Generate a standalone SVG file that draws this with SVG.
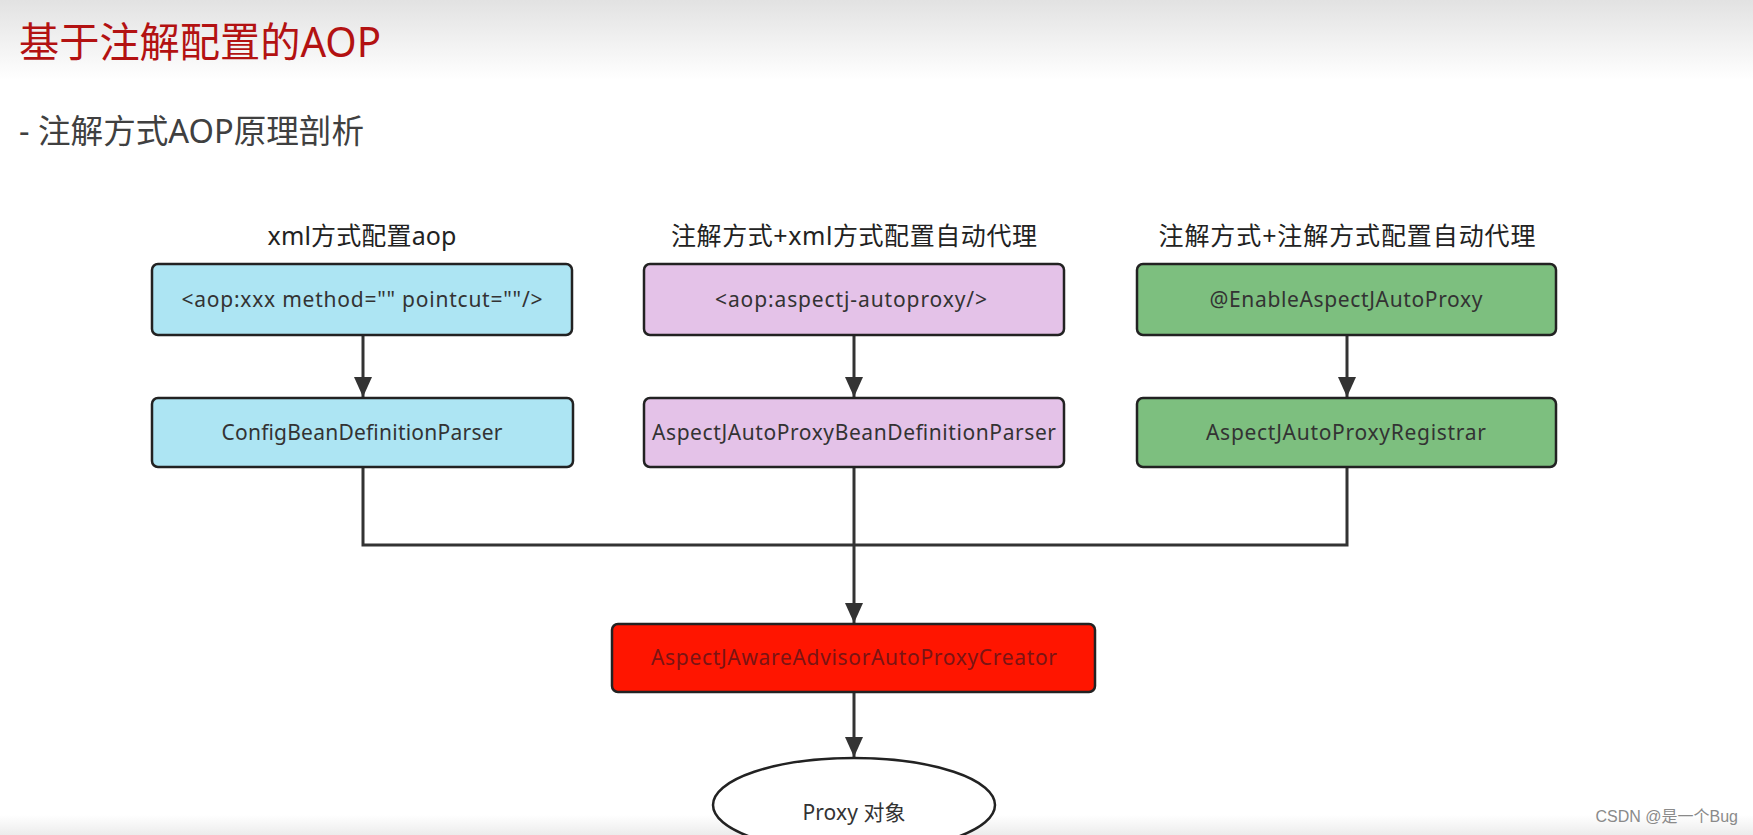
<svg xmlns="http://www.w3.org/2000/svg" width="1753" height="835" viewBox="0 0 1753 835">
<defs>
<linearGradient id="topg" x1="0" y1="0" x2="0" y2="1">
<stop offset="0" stop-color="#e2e2e2"/>
<stop offset="1" stop-color="#ffffff"/>
</linearGradient>
<linearGradient id="botg" x1="0" y1="0" x2="0" y2="1">
<stop offset="0" stop-color="#ffffff"/>
<stop offset="1" stop-color="#ececec"/>
</linearGradient>
<marker id="arr" viewBox="0 0 20 18" refX="20" refY="9" markerWidth="20" markerHeight="18" markerUnits="userSpaceOnUse" orient="auto">
<path d="M0,0 L20,9 L0,18 Z" fill="#333"/>
</marker>
<style>
.head{font-family:"Noto Sans","Noto Sans CJK SC",sans-serif;font-size:25px;fill:#222;text-anchor:middle}
.lbl{font-family:"Noto Sans","Noto Sans CJK SC",sans-serif;font-size:21px;fill:#333;text-anchor:middle}
.box{stroke:#222;stroke-width:2.5}
.conn{stroke:#333;stroke-width:3;fill:none}
</style>
</defs>
<rect x="0" y="0" width="1753" height="835" fill="#fff"/>
<rect x="0" y="0" width="1753" height="80" fill="url(#topg)"/>
<rect x="0" y="815" width="1753" height="20" fill="url(#botg)"/>
<g id="title">
<text x="19" y="57" font-family="'Noto Sans','Noto Sans CJK SC',sans-serif" font-size="41" fill="#b31212" textLength="362" lengthAdjust="spacingAndGlyphs">基于注解配置的AOP</text>
</g>
<g id="subtitle">
<text x="19" y="143" font-family="'Noto Sans','Noto Sans CJK SC',sans-serif" font-size="32.5" fill="#404040" textLength="345" lengthAdjust="spacingAndGlyphs">- 注解方式AOP原理剖析</text>
</g>
<g id="heading1"><text class="head" x="362" y="245" textLength="189">xml方式配置aop</text></g>
<g id="heading2"><text class="head" x="854" y="245" textLength="366">注解方式+xml方式配置自动代理</text></g>
<g id="heading3"><text class="head" x="1347" y="245" textLength="377">注解方式+注解方式配置自动代理</text></g>

<g id="connectors">
<line class="conn" x1="363" y1="335" x2="363" y2="397" marker-end="url(#arr)"/>
<line class="conn" x1="854" y1="335" x2="854" y2="397" marker-end="url(#arr)"/>
<line class="conn" x1="1347" y1="335" x2="1347" y2="397" marker-end="url(#arr)"/>
<polyline class="conn" points="363,467 363,545 1347,545 1347,467"/>
<line class="conn" x1="854" y1="467" x2="854" y2="623" marker-end="url(#arr)"/>
<line class="conn" x1="854" y1="692" x2="854" y2="757" marker-end="url(#arr)"/>
</g>

<g id="n-xml-tag">
<rect class="box" x="152" y="264" width="420" height="71" rx="6" fill="#ade5f3"/>
<text class="lbl" x="362" y="307" textLength="361">&lt;aop:xxx method="" pointcut=""/&gt;</text>
</g>
<g id="n-config-parser">
<rect class="box" x="152" y="398" width="421" height="69" rx="6" fill="#ade5f3"/>
<text class="lbl" x="362" y="440" textLength="281">ConfigBeanDefinitionParser</text>
</g>
<g id="n-autoproxy-tag">
<rect class="box" x="644" y="264" width="420" height="71" rx="6" fill="#e4c2e8"/>
<text class="lbl" x="851" y="307" textLength="272">&lt;aop:aspectj-autoproxy/&gt;</text>
</g>
<g id="n-autoproxy-parser">
<rect class="box" x="644" y="398" width="420" height="69" rx="6" fill="#e4c2e8"/>
<text class="lbl" x="854" y="440" textLength="404">AspectJAutoProxyBeanDefinitionParser</text>
</g>
<g id="n-enable">
<rect class="box" x="1137" y="264" width="419" height="71" rx="6" fill="#7dbf7f"/>
<text class="lbl" x="1346" y="307" textLength="273">@EnableAspectJAutoProxy</text>
</g>
<g id="n-registrar">
<rect class="box" x="1137" y="398" width="419" height="69" rx="6" fill="#7dbf7f"/>
<text class="lbl" x="1346" y="440" textLength="280">AspectJAutoProxyRegistrar</text>
</g>
<g id="n-creator">
<rect class="box" x="612" y="624" width="483" height="68" rx="6" fill="#ff1500"/>
<text class="lbl" x="854" y="665" textLength="406" style="fill:#7a1414">AspectJAwareAdvisorAutoProxyCreator</text>
</g>
<g id="n-proxy">
<ellipse cx="854" cy="805" rx="141" ry="47" fill="#fff" stroke="#222" stroke-width="2.5"/>
<text class="lbl" x="854" y="820" textLength="103">Proxy 对象</text>
</g>
<g id="watermark">
<text x="1738" y="822" text-anchor="end" font-family="'Liberation Sans','Noto Sans CJK SC',sans-serif" font-size="16" fill="#8a8a8a">CSDN @是一个Bug</text>
</g>
</svg>
